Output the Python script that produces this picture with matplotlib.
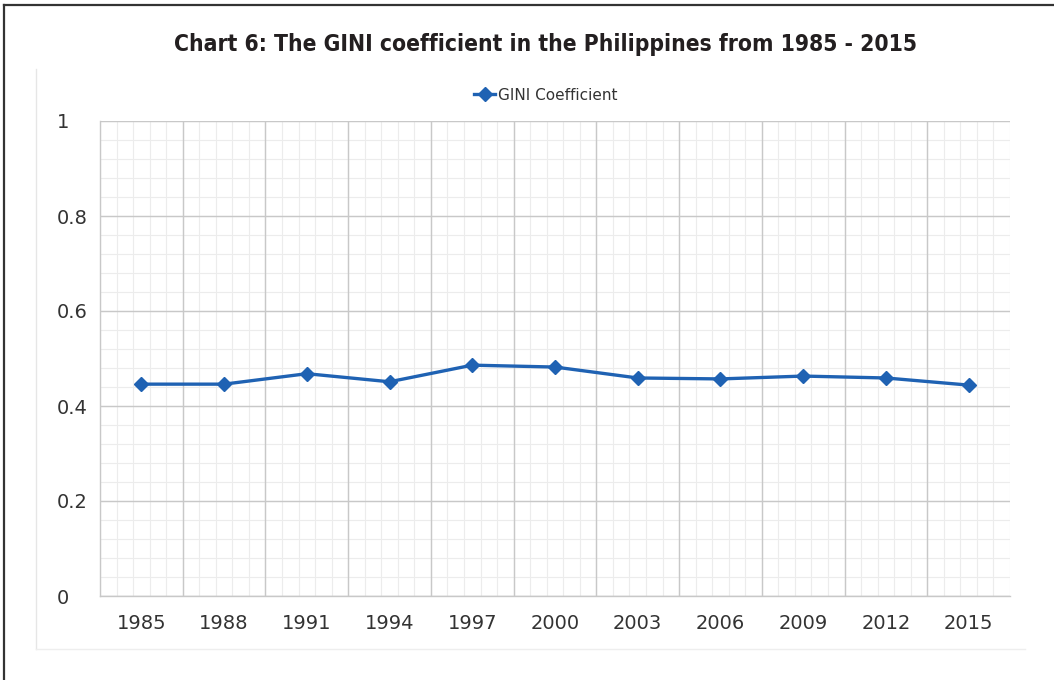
import matplotlib
matplotlib.use("Agg")
import matplotlib.pyplot as plt
from matplotlib.lines import Line2D
from matplotlib import font_manager
import numpy as np

years = ["1985", "1988", "1991", "1994", "1997", "2000", "2003", "2006", "2009", "2012", "2015"]
gini = [0.446, 0.446, 0.468, 0.451, 0.486, 0.482, 0.459, 0.457, 0.463, 0.459, 0.444]
y_ticks = [0, 0.2, 0.4, 0.6, 0.8, 1.0]
y_tick_labels = ["0", "0.2", "0.4", "0.6", "0.8", "1"]
title = "Chart 6: The GINI coefficient in the Philippines from 1985 - 2015"
series_name = "GINI Coefficient"

# find a condensed / narrow bold face if one is installed
cond = None
for f in font_manager.fontManager.ttflist:
    nm = f.name.lower()
    st = str(f.stretch).lower()
    if ("condensed" in nm or "narrow" in nm or "condensed" in st) and \
            (f.weight in ("bold", 700, "semibold", 600) or str(f.weight) in ("700", "600")):
        cond = f
        break

W, H = 1054, 680
fig = plt.figure(figsize=(W / 100, H / 100), dpi=100)
fig.patch.set_facecolor("white")

L, R, T, B = 100, 1010, 121, 596
ax = fig.add_axes([L / W, 1 - B / H, (R - L) / W, (B - T) / H])

n = len(years)
x = np.arange(n)
ax.set_xlim(-0.5, n - 0.5)
ax.set_ylim(0, 1)

# grid
minor_y = np.arange(0, 1.0001, 0.04)
for v in minor_y:
    ax.axhline(v, color="#ececec", lw=0.8, zorder=0)
for v in y_ticks:
    ax.axhline(v, color="#c8c8c8", lw=1.0, zorder=1)
minor_x = np.arange(-0.5, n - 0.5 + 1e-6, 0.2)
for v in minor_x:
    ax.axvline(v, color="#ececec", lw=0.8, zorder=0)
for v in np.arange(0.5, n - 0.5, 1.0):
    ax.axvline(v, color="#c8c8c8", lw=1.0, zorder=1)

for s in ["top", "right"]:
    ax.spines[s].set_visible(False)
ax.spines["left"].set_color("#c8c8c8")
ax.spines["bottom"].set_color("#c8c8c8")
ax.spines["left"].set_linewidth(1.0)
ax.spines["bottom"].set_linewidth(1.0)

ax.plot(x, gini, color="#1f62b3", lw=2.4, marker="D", markersize=7,
        markerfacecolor="#1f62b3", markeredgecolor="#1f62b3", zorder=3,
        label=series_name)

ax.set_xticks(x)
ax.set_xticklabels(years)
ax.set_yticks(y_ticks)
ax.set_yticklabels(y_tick_labels)
ax.tick_params(axis="x", length=0, pad=13, labelsize=14, labelcolor="#333333")
ax.tick_params(axis="y", length=0, pad=31, labelsize=14, labelcolor="#333333")
for lab in ax.get_yticklabels():
    lab.set_horizontalalignment("left")

if cond is not None:
    tprops = font_manager.FontProperties(fname=cond.fname, size=16.4)
else:
    tprops = font_manager.FontProperties(family=["Liberation Sans", "DejaVu Sans"],
                                         weight="bold", size=18.5)
fig.text(546 / W, 1 - 45 / H, title, ha="center", va="center",
         fontproperties=tprops, color="#231f20")

fig.legend(loc="center", bbox_to_anchor=(546 / W, 1 - 95 / H), frameon=False,
           fontsize=11, handlelength=1.4, handletextpad=0.2,
           labelcolor="#333333")

# faint chart frame
fig.add_artist(Line2D([36 / W, 36 / W], [1 - 69 / H, 1 - 649 / H],
                      color="#e6e6e6", lw=1.0, transform=fig.transFigure))
fig.add_artist(Line2D([36 / W, 1025 / W], [1 - 649 / H, 1 - 649 / H],
                      color="#eeeeee", lw=1.0, transform=fig.transFigure))
# outer border
fig.add_artist(Line2D([4 / W, 4 / W], [0, 1 - 5 / H],
                      color="#333333", lw=1.6, transform=fig.transFigure))
fig.add_artist(Line2D([4 / W, 1], [1 - 5 / H, 1 - 5 / H],
                      color="#333333", lw=1.6, transform=fig.transFigure))

fig.savefig("out.png", dpi=100, facecolor="white")
